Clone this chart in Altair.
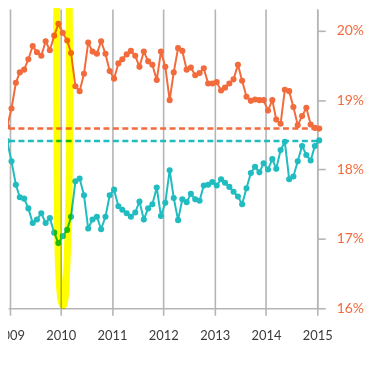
import altair as alt
import pandas as pd

# Monthly readings, Oct 2008 .. Jan 2015 (mid-month)
orange_values = [
    17.81, 18.35, 18.62,
    18.88, 19.25, 19.40, 19.44, 19.59, 19.78, 19.69, 19.64, 19.85, 19.72, 19.93, 20.10,
    19.97, 19.86, 19.68, 19.20, 19.13, 19.38, 19.83, 19.70, 19.67, 19.85, 19.67, 19.42,
    19.31, 19.53, 19.59, 19.66, 19.71, 19.64, 19.48, 19.70, 19.56, 19.51, 19.29, 19.70,
    19.48, 19.00, 19.40, 19.75, 19.71, 19.44, 19.47, 19.36, 19.39, 19.46, 19.24, 19.24,
    19.26, 19.14, 19.18, 19.24, 19.30, 19.51, 19.28, 19.05, 18.99, 19.01, 19.00, 19.00,
    18.85, 19.00, 18.72, 18.66, 19.15, 19.13, 18.90, 18.64, 18.77, 18.89, 18.65, 18.60,
    18.59,
]
teal_values = [
    19.19, 18.64, 18.41,
    18.12, 17.78, 17.60, 17.58, 17.44, 17.23, 17.28, 17.37, 17.23, 17.30, 17.09, 16.94,
    17.04, 17.13, 17.32, 17.83, 17.87, 17.63, 17.15, 17.28, 17.32, 17.14, 17.32, 17.63,
    17.71, 17.47, 17.42, 17.37, 17.32, 17.38, 17.54, 17.28, 17.44, 17.50, 17.74, 17.33,
    17.52, 17.99, 17.59, 17.27, 17.57, 17.53, 17.65, 17.57, 17.55, 17.77, 17.78, 17.82,
    17.77, 17.86, 17.81, 17.75, 17.68, 17.61, 17.50, 17.73, 17.95, 18.04, 17.96, 18.09,
    18.00, 18.15, 18.01, 18.28, 18.40, 17.86, 17.90, 18.12, 18.34, 18.21, 18.13, 18.34,
    18.42,
]
ref_values = [18.59, 18.41]
ref_series = ["orange", "teal"]
year_ticks = [2009, 2010, 2011, 2012, 2013, 2014, 2015]
pct_ticks = [16, 17, 18, 19, 20]

# hand-drawn yellow highlight loop around early 2010 (data coordinates)
highlight_dates = ["2009-12-03", "2009-12-03", "2009-12-07", "2009-12-14", "2009-12-28",
                   "2010-01-15", "2010-02-01", "2010-02-15", "2010-03-02", "2010-03-05",
                   "2010-03-02", "2010-03-02"]
highlight_values = [20.30, 19.0, 17.56, 16.70, 16.20, 16.04, 16.16, 16.70, 17.85, 19.0,
                    20.43, 20.72]

ORANGE = "#f26b3c"
TEAL = "#21bcc0"
GRAY = "#b5b5b5"

dates = []
for m in range(-3, 73):
    yr = 2009 + m // 12
    mo = m % 12 + 1
    dates.append(f"{yr}-{mo:02d}-15T00:00:00")

df = pd.DataFrame({
    "date": dates + dates,
    "value": orange_values + teal_values,
    "series": ["orange"] * len(orange_values) + ["teal"] * len(teal_values),
})
ref_df = pd.DataFrame({"value": ref_values, "series": ref_series})
hl_df = pd.DataFrame({
    "i": list(range(len(highlight_dates))),
    "date": [d + "T00:00:00" for d in highlight_dates],
    "value": highlight_values,
})

x_enc = alt.X(
    "date:T",
    scale=alt.Scale(domain=[alt.DateTime(year=2008, month=12, date=21),
                            alt.DateTime(year=2015, month=1, date=1)]),
    axis=alt.Axis(
        values=[alt.DateTime(year=y, month=1, date=1) for y in year_ticks],
        format="%Y", title=None, grid=True, gridColor=GRAY, gridWidth=1.6,
        domainColor=GRAY, domainWidth=1.6, tickColor=GRAY, tickWidth=1.6,
        tickSize=7, labelFont="Lato", labelFontSize=13, labelColor="#3a3a3a",
        labelPadding=14, labelFlush=False, labelOverlap=False,
    ),
)
y_enc = alt.Y(
    "value:Q",
    scale=alt.Scale(domain=[16, 20.315], nice=False, zero=False),
    axis=alt.Axis(
        orient="right", values=pct_ticks, labelExpr="datum.value + '%'",
        title=None, grid=False, domainColor=GRAY, domainWidth=1.6,
        tickColor=GRAY, tickWidth=1.6, tickSize=8, labelPadding=11,
        labelFont="Lato", labelFontSize=14, labelColor=ORANGE,
    ),
)
color_scale = alt.Scale(domain=["orange", "teal"], range=[ORANGE, TEAL])

rules = alt.Chart(ref_df).mark_rule(strokeDash=[6, 3.5], strokeWidth=2.5).encode(
    y=y_enc, color=alt.Color("series:N", scale=color_scale, legend=None)
)
lines = alt.Chart(df).mark_line(strokeWidth=2).encode(
    x=x_enc, y=y_enc, color=alt.Color("series:N", scale=color_scale, legend=None),
    detail="series:N",
)
points = alt.Chart(df).mark_circle(size=38, opacity=1).encode(
    x=x_enc, y=y_enc, color=alt.Color("series:N", scale=color_scale, legend=None),
)
highlight = alt.Chart(hl_df).mark_line(
    color="#ffff00", strokeWidth=7, strokeCap="round", strokeJoin="round",
    blend="multiply", interpolate="cardinal",
).encode(x=x_enc, y=y_enc, order="i:Q")

chart = alt.layer(rules, lines, points, highlight).properties(
    width=311, height=301,
    autosize=alt.AutoSizeParams(type="none"),
    padding={"left": 0, "top": 0, "right": 48, "bottom": 40},
    background="white",
).configure_view(stroke=None)

chart.save("out.html", embed_options={"renderer": "svg", "actions": False})
